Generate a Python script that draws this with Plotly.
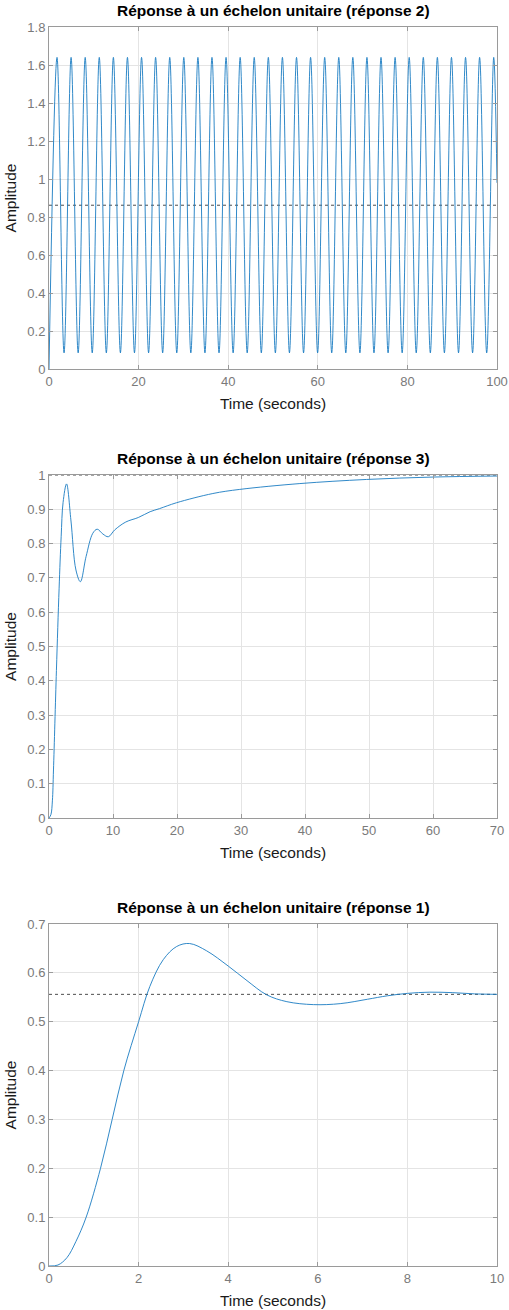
import plotly.graph_objects as go

# ---------------- data ----------------
titles = ["Réponse à un échelon unitaire (réponse 2)",
          "Réponse à un échelon unitaire (réponse 3)",
          "Réponse à un échelon unitaire (réponse 1)"]
x_label = "Time (seconds)"
y_label = "Amplitude"

# response 2 : sustained oscillation (start, alternating peaks / troughs, end)
t_resp2 = [0, 1.79, 3.36, 4.93, 6.51, 8.08, 9.65, 11.22, 12.80, 14.37, 15.94,
           17.51, 19.08, 20.66, 22.23, 23.80, 25.37, 26.95, 28.52, 30.09, 31.66,
           33.24, 34.81, 36.38, 37.95, 39.52, 41.10, 42.67, 44.24, 45.81, 47.39,
           48.96, 50.53, 52.10, 53.67, 55.25, 56.82, 58.39, 59.96, 61.54, 63.11,
           64.68, 66.25, 67.82, 69.40, 70.97, 72.54, 74.11, 75.69, 77.26, 78.83,
           80.40, 81.97, 83.55, 85.12, 86.69, 88.26, 89.84, 91.41, 92.98, 94.55,
           96.12, 97.70, 99.27, 100]
y_resp2 = [0, 1.64, 0.085, 1.64, 0.085, 1.64, 0.085, 1.64, 0.085, 1.64, 0.085,
           1.64, 0.085, 1.64, 0.085, 1.64, 0.085, 1.64, 0.085, 1.64, 0.085,
           1.64, 0.085, 1.64, 0.085, 1.64, 0.085, 1.64, 0.085, 1.64, 0.085,
           1.64, 0.085, 1.64, 0.085, 1.64, 0.085, 1.64, 0.085, 1.64, 0.085,
           1.64, 0.085, 1.64, 0.085, 1.64, 0.085, 1.64, 0.085, 1.64, 0.085,
           1.64, 0.085, 1.64, 0.085, 1.64, 0.085, 1.64, 0.085, 1.64, 0.085,
           1.64, 0.085, 1.64, 0.98]
ss_resp2 = 0.862

# response 3
t_resp3 = [0, 0.3, 0.53, 0.7, 1.16, 1.58, 1.9, 2.2, 2.74, 3.42, 4.21, 4.9,
           5.79, 6.84, 7.53, 8.42, 9.27, 10.27, 12.0, 13.95, 15.8, 17.27,
           19.9, 25.6, 29.8, 39.2, 49.6, 60, 70]
y_resp3 = [0, 0.01, 0.05, 0.14, 0.43, 0.67, 0.82, 0.92, 0.974, 0.869, 0.723,
           0.689, 0.762, 0.830, 0.842, 0.828, 0.820, 0.840, 0.863, 0.876,
           0.893, 0.902, 0.919, 0.946, 0.958, 0.975, 0.987, 0.994, 0.997]
ss_resp3 = 1.0

# response 1
t_resp1 = [0, 0.2, 0.4, 0.6, 0.83, 1.15, 1.41, 1.67, 2.0, 2.25, 2.55, 2.85,
           3.14, 3.52, 4.0, 4.42, 4.86, 5.31, 5.9, 6.5, 7.11, 7.55, 8.0, 8.5,
           9.0, 9.5, 10]
y_resp1 = [0, 0.002, 0.017, 0.05, 0.1, 0.2, 0.3, 0.4, 0.5, 0.572, 0.627,
           0.654, 0.660, 0.645, 0.614, 0.584, 0.555, 0.541, 0.535, 0.537,
           0.546, 0.553, 0.558, 0.5605, 0.5595, 0.557, 0.556]
ss_resp1 = 0.556

x_max = [100, 70, 10]
x_dtick = [20, 10, 2]
y_max = [1.8, 1.0, 0.7]
y_dtick = [0.2, 0.1, 0.1]

# ---------------- figure ----------------
W, H = 509, 1310
L, R, T, B = 49, 12, 27, 44
ph = H - T - B


def frac(px):
    return 1 - (px - T) / ph


domains = [(frac(369), frac(27)), (frac(818), frac(475)), (0.0, frac(924))]

series = [(t_resp2, y_resp2, ss_resp2),
          (t_resp3, y_resp3, ss_resp3),
          (t_resp1, y_resp1, ss_resp1)]

FONT = "Liberation Sans, Arial, Helvetica, sans-serif"
LINE_BLUE = "#1a7cc2"

fig = go.Figure()
for i, (tx, ty, ss) in enumerate(series):
    xa = "x" if i == 0 else f"x{i+1}"
    ya = "y" if i == 0 else f"y{i+1}"
    fig.add_trace(go.Scatter(x=[0, x_max[i]], y=[ss, ss], mode="lines",
                             line=dict(color="#4d4d4d", width=1, dash="dot"),
                             xaxis=xa, yaxis=ya, hoverinfo="skip",
                             showlegend=False))
    fig.add_trace(go.Scatter(x=tx, y=ty, mode="lines",
                             line=dict(color=LINE_BLUE, width=0.9,
                                       shape="spline", smoothing=1.0),
                             xaxis=xa, yaxis=ya, showlegend=False))

common = dict(showline=True, linecolor="#9a9a9a", linewidth=1, mirror="ticks",
              ticks="inside", ticklen=4, tickcolor="#9a9a9a", showgrid=True,
              gridcolor="#e4e4e4", gridwidth=1, zeroline=False, automargin=False,
              tickfont=dict(family=FONT, size=13, color="#7a7a7a"))

layout = dict(width=W, height=H, margin=dict(l=L, r=R, t=T, b=B),
              paper_bgcolor="white", plot_bgcolor="white",
              font=dict(family=FONT), showlegend=False)

annotations = []
for i in range(3):
    xk = "xaxis" if i == 0 else f"xaxis{i+1}"
    yk = "yaxis" if i == 0 else f"yaxis{i+1}"
    ya = "y" if i == 0 else f"y{i+1}"
    xa = "x" if i == 0 else f"x{i+1}"
    layout[xk] = dict(common, domain=[0, 1], anchor=ya, range=[0, x_max[i]],
                      dtick=x_dtick[i], tick0=0,
                      title=dict(text=x_label, standoff=10,
                                 font=dict(family=FONT, size=15.5, color="#1a1a1a")))
    layout[yk] = dict(common, domain=list(domains[i]), anchor=xa,
                      range=[0, y_max[i]], dtick=y_dtick[i], tick0=0,
                      title=dict(text=y_label, standoff=6,
                                 font=dict(family=FONT, size=15.5, color="#1a1a1a")))
    annotations.append(dict(text=f"<b>{titles[i]}</b>", xref="paper", yref="paper",
                            x=0.5, y=domains[i][1], xanchor="center",
                            yanchor="bottom", yshift=6, showarrow=False,
                            font=dict(family=FONT, size=15.5, color="#000000")))
layout["annotations"] = annotations
fig.update_layout(**layout)

fig.write_html("out.html")
